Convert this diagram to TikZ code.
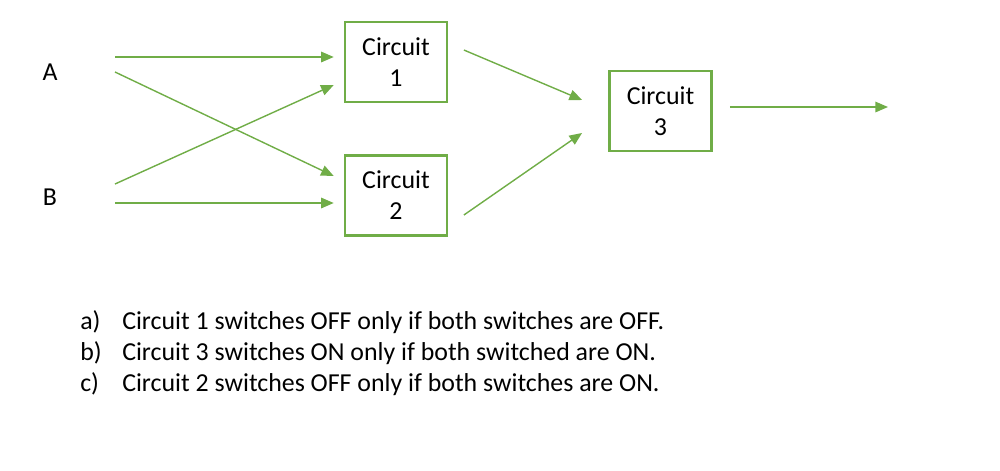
\documentclass[tikz,border=0pt]{standalone}
\usepackage{fontspec}
\setmainfont{Carlito}
\usetikzlibrary{arrows.meta, positioning}
\definecolor{officegreen}{HTML}{70AD47}
\newcommand{\itemlabel}[1]{\makebox[1.05cm][l]{#1}}
\tikzset{%
  x=0.025cm, y=-0.025cm,
  every node/.style={
    font=\fontsize{18.4}{22}\selectfont},
  circuit/.style={
    draw=officegreen,
    line width=2pt,
    minimum width=2.55cm,
    minimum height=2cm,
    align=center,
    inner sep=0pt},
  question/.style={
    anchor=base west,
    inner sep=0pt},
  wire/.style={
    draw=officegreen,
    line width=1pt,
    -{Triangle[length=9pt, width=7.5pt]}} %
}
\begin{document}
\begin{tikzpicture}
    \useasboundingbox (0,0) rectangle (1000,470);

    % inputs and circuits
    \node (A) at (50,72) {A};
    \node (B) at (50,197) {B};
    \node[circuit] (C1) at (396,62) {Circuit\\1};
    \node[circuit] (C2) at (396,195.5) {Circuit\\2};
    \node[circuit] (C3) at (660.5,111) {Circuit\\3};
    \coordinate (out) at (888,107);

    \draw[wire] (115,57) -- ([xshift=-7pt]C1.west |- 0,57);
    \draw[wire] (115,72) -- ([xshift=-7pt]C2.west |- 0,176);
    \draw[wire] (115,184) -- ([xshift=-7pt]C1.west |- 0,85);
    \draw[wire] (115,203) -- ([xshift=-7pt]C2.west |- 0,203);
    \draw[wire] ([xshift=11pt]C1.east |- 0,50) -- ([xshift=-18.5pt]C3.west |- 0,100);
    \draw[wire] ([xshift=11pt]C2.east |- 0,215) -- ([xshift=-18.5pt]C3.west |- 0,133);
    \draw[wire] ([xshift=12pt]C3.east |- 0,107) -- (out);

    % questions
    \node[question] (qa) at (80,329)
      {\itemlabel{a)}Circuit 1 switches OFF only if both switches are OFF.};
    \node[question] (qb) at (80,360)
      {\itemlabel{b)}Circuit 3 switches ON only if both switched are ON.};
    \node[question] (qc) at (80,391)
      {\itemlabel{c)}Circuit 2 switches OFF only if both switches are ON.};
\end{tikzpicture}
\end{document}
